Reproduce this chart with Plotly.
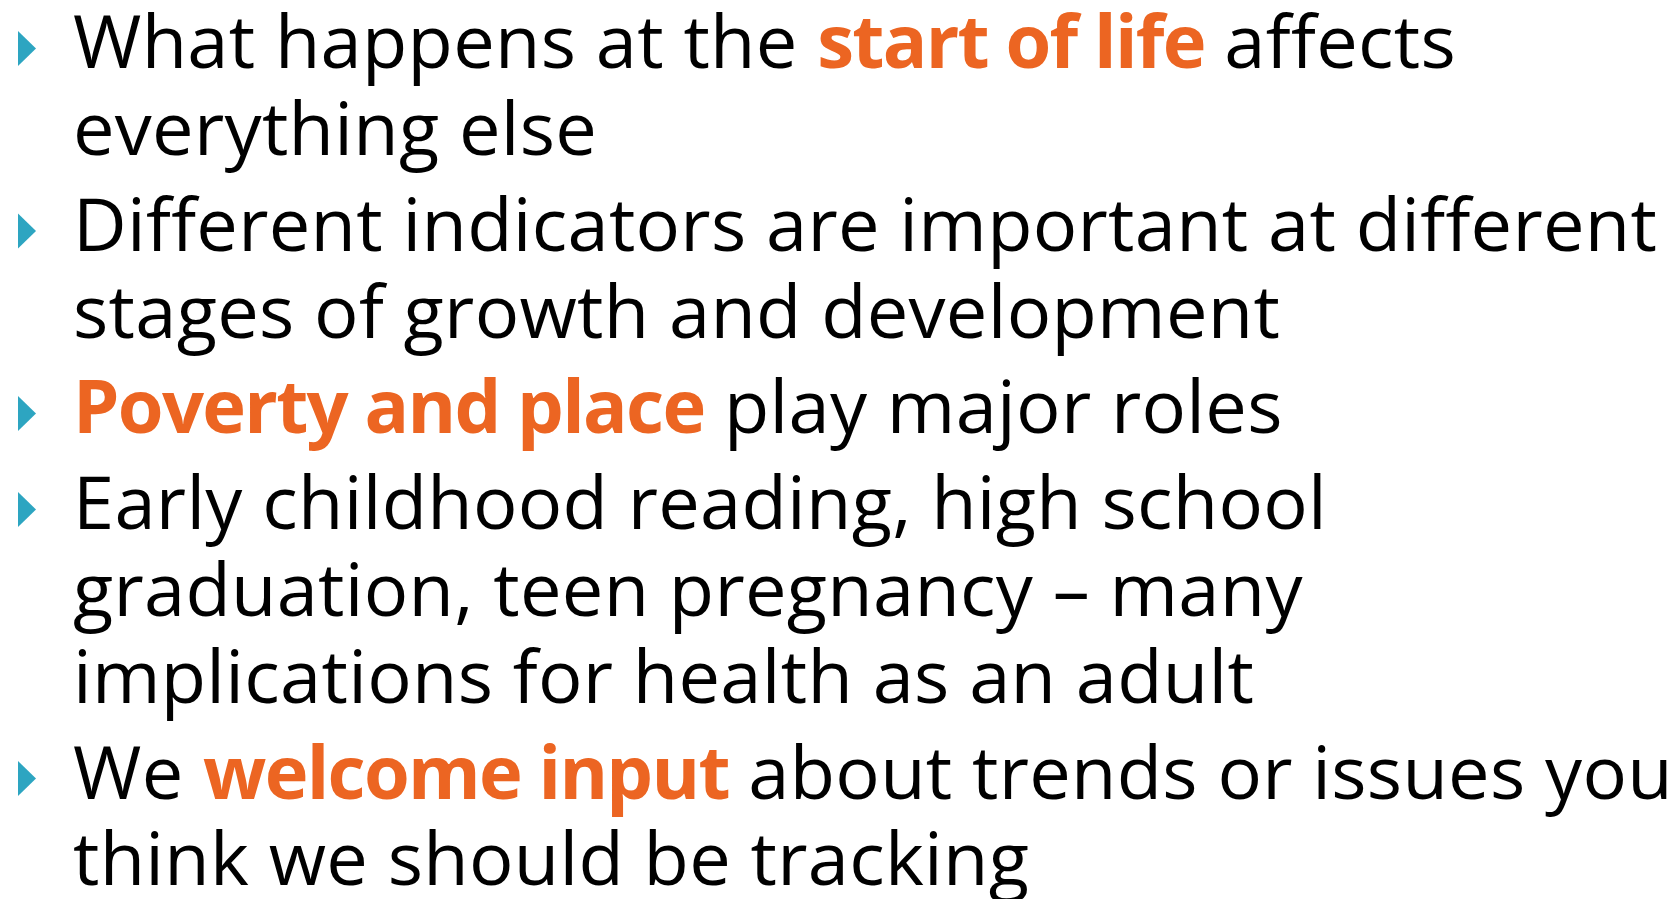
import plotly.graph_objects as go

# ---- content ----
ORANGE = "#EC6522"
TEAL = "#2DA5C1"

paragraph_index = [0, 0, 1, 1, 2, 3, 3, 3, 4, 4]
line_texts = [
    "What happens at the {o}start of life{c} affects",
    "everything else",
    "Different indicators are important at different",
    "stages of growth and development",
    "{o}Poverty and place{c} play major roles",
    "Early childhood reading, high school",
    "graduation, teen pregnancy \u2013 many",
    "implications for health as an adult",
    "We {o}welcome input{c} about trends or issues you",
    "think we should be tracking",
]

W, H = 1675, 899
FONT = "Open Sans"
FS = 74
FIRST_BASELINE = 67
LINE_PITCH = 86.5
PARA_EXTRA = 9.5
TEXT_X = 73
BOX_DESCENT = 23.5   # distance from baseline to bottom of the annotation box

open_tag = f'<span style="letter-spacing:-0.023em;color:{ORANGE};font-weight:bold">'
close_tag = "</span>"
wrap_open = '<span style="letter-spacing:0.3px">'
wrap_close = "</span>"

baselines = [FIRST_BASELINE + LINE_PITCH * i + PARA_EXTRA * p
             for i, p in enumerate(paragraph_index)]

fig = go.Figure()
fig.add_trace(go.Scatter(x=[0, W], y=[0, H], mode="markers",
                         marker=dict(opacity=0), hoverinfo="skip", showlegend=False))

annotations = []
for txt, b in zip(line_texts, baselines):
    body = txt.format(o=wrap_close + open_tag, c=close_tag + wrap_open)
    annotations.append(dict(
        x=TEXT_X, y=1 - (b + BOX_DESCENT) / H, xref="x", yref="paper",
        xanchor="left", yanchor="bottom",
        text=wrap_open + body + wrap_close, showarrow=False,
        font=dict(family=FONT, size=FS, color="#000000"),
        borderpad=0, borderwidth=0,
    ))

shapes = []
first_lines = [i for i, p in enumerate(paragraph_index)
               if i == 0 or paragraph_index[i - 1] != p]
for i in first_lines:
    b = baselines[i]
    shapes.append(dict(
        type="path", xref="x", yref="y",
        path=f"M 18 {b-36} L 36 {b-18.5} L 18 {b-1} Z",
        fillcolor=TEAL, line=dict(width=0),
    ))

fig.update_layout(
    width=W, height=H, margin=dict(l=0, r=0, t=0, b=0),
    paper_bgcolor="white", plot_bgcolor="white",
    xaxis=dict(range=[0, W], visible=False, fixedrange=True),
    yaxis=dict(range=[H, 0], visible=False, fixedrange=True),
    annotations=annotations, shapes=shapes, showlegend=False,
)

fig.write_html("out.html", config={"displayModeBar": False},
               post_script="document.body.style.margin='0';")
